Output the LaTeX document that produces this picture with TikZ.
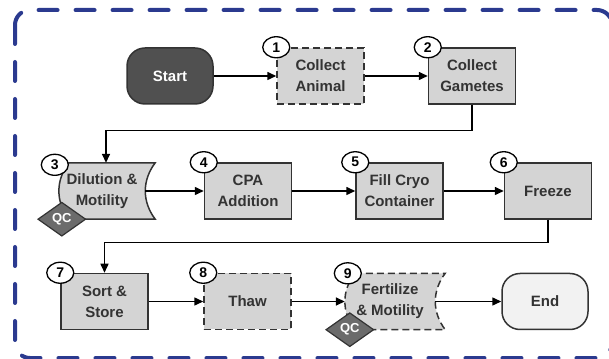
\documentclass[tikz,border=0pt]{standalone}
\usepackage{fontspec}
\setmainfont{Liberation Sans}
\usetikzlibrary{arrows.meta,shapes.geometric,backgrounds}
\definecolor{frameblue}{HTML}{2B3A8F}
\definecolor{stepgray}{HTML}{D4D4D4}
\definecolor{inkdark}{HTML}{333333}
\definecolor{startgray}{HTML}{505050}
\definecolor{endgray}{HTML}{F2F2F2}
\definecolor{qcgray}{HTML}{6B6B6B}
\begin{document}
\begin{tikzpicture}[x=1pt,y=1pt,
  txt/.style={font=\bfseries\fontsize{15}{21}\selectfont, text=inkdark, align=center},
  stepbox/.style={txt, draw=inkdark, line width=1.5pt, fill=stepgray,
    minimum width=87pt, minimum height=56pt, inner sep=0pt},
  dashbox/.style={stepbox, dash pattern=on 7pt off 4pt},
  termbox/.style={txt, draw=inkdark, line width=1.5pt, rounded corners=18pt,
    minimum width=86pt, minimum height=56pt, inner sep=0pt},
  curvedtext/.style={txt, minimum height=56pt, inner sep=0pt},
  curvedfill/.style={fill=stepgray, draw=inkdark, line width=1.5pt},
  numtag/.style={ellipse, draw=black, line width=1.3pt, fill=white,
    minimum width=27pt, minimum height=21pt, inner sep=0pt,
    font=\bfseries\fontsize{14}{14}\selectfont},
  qctag/.style={diamond, draw=inkdark, line width=1.2pt, fill=qcgray,
    minimum width=48pt, minimum height=34pt, inner sep=0pt, text=white,
    font=\bfseries\fontsize{13}{13}\selectfont},
  flow/.style={draw=black, line width=1.5pt, -{Triangle[length=9pt,width=8pt]}},
]
\useasboundingbox (0,0) rectangle (609,358);

% outer dashed frame (its lower and right edges run off the page)
\draw[frameblue, line width=4pt, line cap=round, dash pattern=on 19pt off 18pt,
  rounded corners=15pt] (15,348) rectangle (612,0);

% row 1
\node[termbox, fill=startgray, draw=black!80, text=white] (start) at (170,282) {Start};
\node[dashbox] (s1) at (320.5,282) {Collect\\Animal};
\node[stepbox] (s2) at (472,282) {Collect\\Gametes};

% row 2
\node[curvedtext, minimum width=86pt] (s3) at (102,167) {Dilution \&\\Motility};
\node[stepbox] (s4) at (248,167) {CPA\\Addition};
\node[stepbox] (s5) at (399.5,167) {Fill Cryo\\Container};
\node[stepbox] (s6) at (548,167) {Freeze};

% row 3
\node[stepbox] (s7) at (104.5,56.5) {Sort \&\\Store};
\node[dashbox] (s8) at (247.5,56.5) {Thaw};
\node[curvedtext, minimum width=90pt] (s9) at (390,56.5) {Fertilize\\\& Motility};
\node[termbox, fill=endgray] (end) at (545,56.5) {End};

% curved-sided step shapes behind their labels
\begin{scope}[on background layer]
\path[curvedfill] ([xshift=10pt]s3.north west) -- ([xshift=10pt]s3.north east)
  to[bend right=37] ([xshift=10pt]s3.south east) -- ([xshift=10pt]s3.south west)
  to[bend left=37] ([xshift=10pt]s3.north west) -- cycle;
\path[curvedfill, dash pattern=on 7pt off 4pt] ([xshift=10pt]s9.north west) -- ([xshift=10pt]s9.north east)
  to[bend right=37] ([xshift=10pt]s9.south east) -- ([xshift=10pt]s9.south west)
  to[bend left=37] ([xshift=10pt]s9.north west) -- cycle;
\end{scope}

% connectors
\draw[flow] (start) -- (s1);
\draw[flow] (s1) -- (s2);
\draw[flow] (s2.south) -- ++(0,-26) -| ([xshift=4pt]s3.north);
\draw[flow] (s3) -- (s4);
\draw[flow] (s4) -- (s5);
\draw[flow] (s5) -- (s6);
\draw[flow] (s6.south) -- ++(0,-23) -| (s7.north);
\draw[flow] (s7) -- (s8);
\draw[flow] (s8) -- (s9);
\draw[flow] (s9) -- (end);

% step numbers
\node[numtag] (n1) at (s1.north west) {1};
\node[numtag] (n2) at (s2.north west) {2};
\node[numtag] (n3) at ([xshift=-4pt,yshift=-2pt]s3.north west) {3};
\node[numtag] (n4) at (s4.north west) {4};
\node[numtag] (n5) at (s5.north west) {5};
\node[numtag] (n6) at (s6.north west) {6};
\node[numtag] (n7) at (s7.north west) {7};
\node[numtag] (n8) at (s8.north west) {8};
\node[numtag] (n9) at ([xshift=3pt]s9.north west) {9};

% quality-control markers
\node[qctag] (qa) at ([xshift=3pt]s3.south west) {QC};
\node[qctag] (qb) at ([xshift=5pt]s9.south west) {QC};
\end{tikzpicture}
\end{document}
